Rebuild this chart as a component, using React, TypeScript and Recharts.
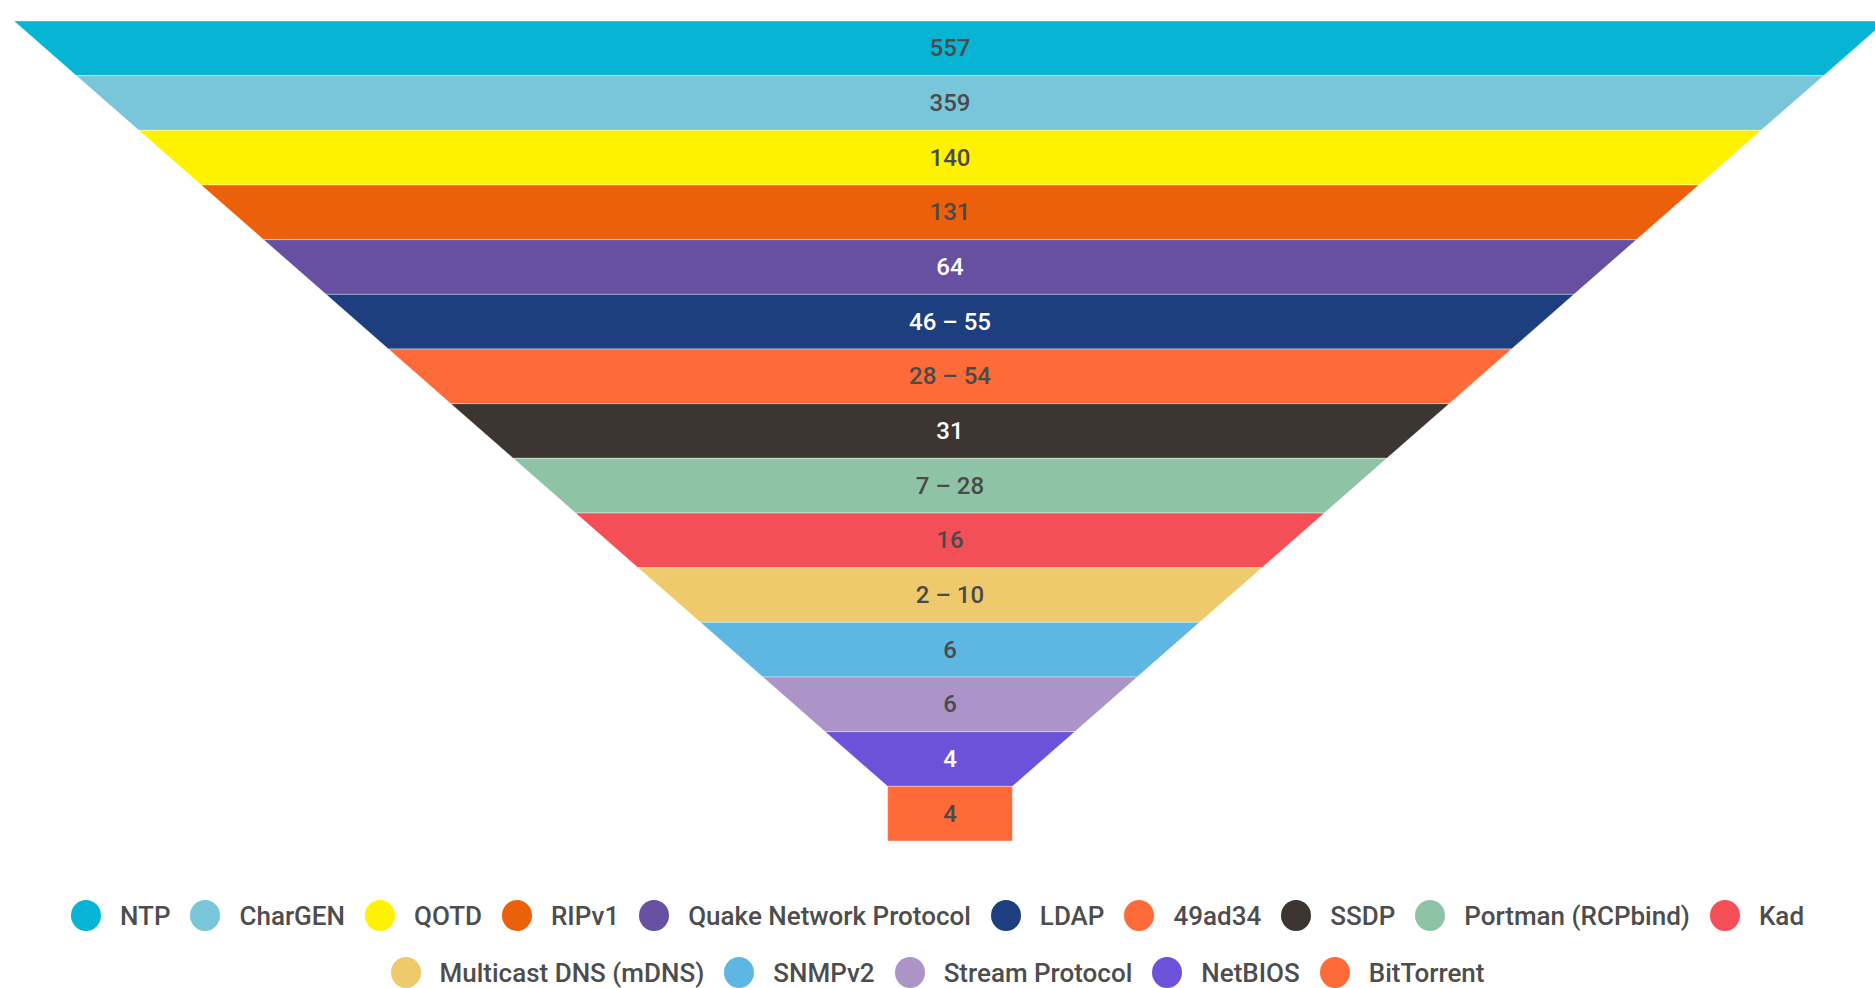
import { FunnelChart, Funnel, Cell, LabelList } from "recharts";

const PROTOCOLS = [
  "NTP",
  "CharGEN",
  "QOTD",
  "RIPv1",
  "Quake Network Protocol",
  "LDAP",
  "49ad34",
  "SSDP",
  "Portman (RCPbind)",
  "Kad",
  "Multicast DNS (mDNS)",
  "SNMPv2",
  "Stream Protocol",
  "NetBIOS",
  "BitTorrent",
];

// amplification factor as printed on each band
const FACTORS = [
  "557",
  "359",
  "140",
  "131",
  "64",
  "46 – 55",
  "28 – 54",
  "31",
  "7 – 28",
  "16",
  "2 – 10",
  "6",
  "6",
  "4",
  "4",
];

// band widths are by rank, not by factor
const BAND_WIDTH = [15, 14, 13, 12, 11, 10, 9, 8, 7, 6, 5, 4, 3, 2, 1];

const COLORS = [
  "#06b4d4",
  "#79c5d9",
  "#fff200",
  "#ec600b",
  "#6750a1",
  "#1d3e7f",
  "#ff6a39",
  "#3c3532",
  "#8ec3a6",
  "#f44f57",
  "#eeca6c",
  "#5eb6e3",
  "#ad94c8",
  "#6c52d9",
  "#ff6a39",
];

const TEXT_DARK = "#4a4a4a";
const LABEL_COLORS = [
  TEXT_DARK,
  TEXT_DARK,
  TEXT_DARK,
  TEXT_DARK,
  "#ffffff",
  "#ffffff",
  TEXT_DARK,
  "#ffffff",
  TEXT_DARK,
  TEXT_DARK,
  TEXT_DARK,
  TEXT_DARK,
  TEXT_DARK,
  "#ffffff",
  TEXT_DARK,
];

const data = PROTOCOLS.map((name, i) => ({
  name,
  value: BAND_WIDTH[i],
  label: FACTORS[i],
}));

const FONT = "Roboto, 'Noto Sans', sans-serif";

function BandLabel(props: any) {
  const vb = props.viewBox ?? props;
  const x = Number(vb.x ?? props.x);
  const y = Number(vb.y ?? props.y);
  const w = Number(vb.width ?? vb.upperWidth ?? props.width);
  const h = Number(vb.height ?? props.height);
  const idx = props.index ?? 0;
  return (
    <text
      x={x + w / 2}
      y={y + h / 2}
      textAnchor="middle"
      dominantBaseline="central"
      fill={LABEL_COLORS[idx]}
      fontSize={24}
      fontWeight={500}
      fontFamily={FONT}
    >
      {props.value}
    </text>
  );
}

export default function App() {
  return (
    <div
      style={{
        position: "absolute",
        left: 0,
        top: 0,
        width: 1875,
        height: 988,
        overflow: "hidden",
        background: "#fff",
        fontFamily: FONT,
      }}
    >
      <div style={{ position: "absolute", left: 14, top: 21 }}>
        <FunnelChart
          width={1872}
          height={820}
          margin={{ top: 0, right: 0, bottom: 0, left: 0 }}
        >
          <Funnel
            data={data}
            dataKey="value"
            nameKey="name"
            lastShapeType="rectangle"
            stroke="#ffffff"
            strokeOpacity={0.4}
            strokeWidth={1}
            isAnimationActive={false}
          >
            {data.map((d, i) => (
              <Cell key={d.name} fill={COLORS[i]} />
            ))}
            <LabelList dataKey="label" content={<BandLabel />} />
          </Funnel>
        </FunnelChart>
      </div>

      <div
        style={{
          position: "absolute",
          left: 0,
          top: 887,
          width: 1875,
          display: "flex",
          justifyContent: "center",
        }}
      >
        <div
          style={{
            maxWidth: 1790,
            display: "flex",
            flexWrap: "wrap",
            justifyContent: "center",
            columnGap: 20,
            rowGap: 0,
          }}
        >
          {PROTOCOLS.map((name, i) => (
            <div
              key={name}
              style={{
                display: "flex",
                alignItems: "center",
                height: 57,
                gap: 19,
              }}
            >
              <span
                style={{
                  width: 30,
                  height: 31,
                  borderRadius: "50%",
                  background: COLORS[i],
                  display: "inline-block",
                }}
              />
              <span
                style={{
                  fontSize: 26,
                  fontWeight: 500,
                  color: "#4d4d4d",
                  whiteSpace: "nowrap",
                }}
              >
                {name}
              </span>
            </div>
          ))}
        </div>
      </div>
    </div>
  );
}
